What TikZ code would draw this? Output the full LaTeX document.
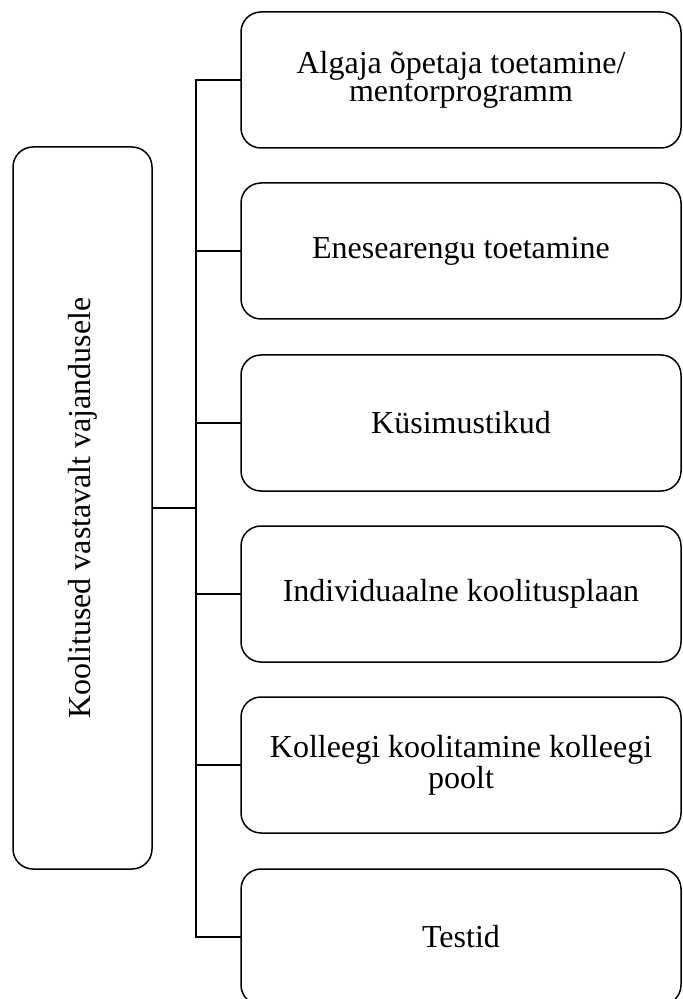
\documentclass[tikz,border=0pt]{standalone}
\usepackage{fontspec}
\setmainfont{Liberation Serif}
\usepackage{graphicx}

\begin{document}
\begin{tikzpicture}[x=0.5pt, y=-0.5pt]
    \useasboundingbox (0,0) rectangle (682,999);
    \clip (0,0) rectangle (682,999);

        % left box, text turned upwards
        \node (L) [draw, line width=0.75pt, rounded corners=10pt, outer sep=0pt,
                   minimum width=69.5pt, minimum height=361pt,
                   font=\fontsize{16}{14}\selectfont] at (82.5,508)
              {\rotatebox{90}{Koolitused vastavalt vajandusele}};

        % Add or remove boxes here, use the tuple for location
        \begin{scope}[every node/.style={draw, line width=0.75pt, rounded corners=10pt,
                      outer sep=0pt, minimum width=220pt, minimum height=68pt,
                      align=center, font=\fontsize{16}{14}\selectfont}]
        \node (A) at (461,80)  {Algaja õpetaja toetamine/\\mentorprogramm};
        \node (B) at (461,251) {Enesearengu toetamine};
        \node (C) at (461,423) {Küsimustikud};
        \node (D) at (461,594) {Individuaalne koolitusplaan};
        \node (E) at (461,765) {Kolleegi koolitamine kolleegi\\poolt};
        \node (F) at (461,937) {Testid};
        \end{scope}

        \coordinate (S) at (196,508);

        % connectors
        \begin{scope}[every path/.style={draw=black, line width=0.6pt}]
        \draw[line width=1pt] (L.east) -- (S);
        \draw (A.west) -| (S);
        \draw (B.west) -| (S);
        \draw (C.west) -| (S);
        \draw (D.west) -| (S);
        \draw (E.west) -| (S);
        \draw (F.west) -| (S);
        \end{scope}

\end{tikzpicture}
\end{document}
